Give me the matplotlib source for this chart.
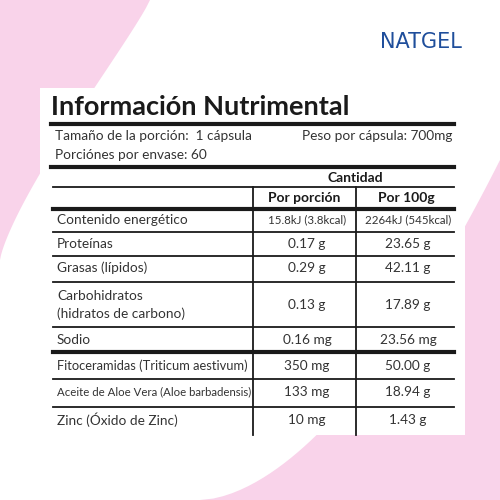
import matplotlib
matplotlib.use("Agg")
import matplotlib.pyplot as plt
from matplotlib.patches import Polygon, Rectangle
import numpy as np

title = "Información Nutrimental"
serving = "Tamaño de la porción:  1 cápsula"
weight = "Peso por cápsula: 700mg"
servings = "Porciónes por envase: 60"
head = "Cantidad"
cols = ["Por porción", "Por 100g"]
nutrients = ["Contenido energético", "Proteínas", "Grasas (lípidos)",
             "Carbohidratos\n(hidratos de carbono)", "Sodio",
             "Fitoceramidas (Triticum aestivum)", "Aceite de Aloe Vera (Aloe barbadensis)",
             "Zinc (Óxido de Zinc)"]
per_portion = ["15.8kJ (3.8kcal)", "0.17 g", "0.29 g", "0.13 g", "0.16 mg", "350 mg", "133 mg", "10 mg"]
per_100g = ["2264kJ (545kcal)", "23.65 g", "42.11 g", "17.89 g", "23.56 mg", "50.00 g", "18.94 g", "1.43 g"]

row_text_y = [220, 244, 268, 305, 340, 366, 392, 420]
row_line_y = [232, 256, 282, 327, 352, 379, 407]
thick_after = {4}

pink = "#f9d3ea"
plt.rcParams['font.family'] = ['Lato', 'DejaVu Sans']
fig = plt.figure(figsize=(5, 5), dpi=100)
ax = fig.add_axes([0, 0, 1, 1])
ax.set_xlim(0, 500); ax.set_ylim(500, 0); ax.axis('off')

t = np.linspace(0, 1, 50)
x1 = 150 * (1 - t) ** 1.3; y1 = 260 * t ** 0.9
ax.add_patch(Polygon(np.column_stack([np.r_[0, x1], np.r_[0, y1]]), color=pink, lw=0))
x2 = 200 + 300 * t ** 0.8; y2 = 500 - 340 * t ** 1.4
ax.add_patch(Polygon(np.column_stack([np.r_[x2, 500], np.r_[y2, 500]]), color=pink, lw=0))
ax.add_patch(Rectangle((40, 88), 425, 347, color='white', lw=0))

ax.text(462, 42, "NATGEL", ha='right', va='center', fontsize=15, color='#1f4e9b', family='DejaVu Sans')

k = '#1a1a1a'
ax.text(51, 107, title, fontsize=19.5, fontweight='bold', va='center', color=k)
ax.plot([51, 454], [124, 124], color=k, lw=3)
ax.text(55, 136, serving, fontsize=9.8, va='center', color='#333')
ax.text(452, 136, weight, fontsize=9.8, va='center', ha='right', color='#333')
ax.text(55, 155, servings, fontsize=9.8, va='center', color='#333')
ax.plot([51, 454], [167, 167], color=k, lw=3)
ax.text(355, 178, head, fontsize=10, fontweight='bold', va='center', ha='center', color=k)
ax.plot([53, 454], [187, 187], color=k, lw=1.3)
ax.text(304, 198, cols[0], fontsize=10, fontweight='bold', va='center', ha='center', color=k)
ax.text(406, 198, cols[1], fontsize=10, fontweight='bold', va='center', ha='center', color=k)
ax.plot([53, 454], [209, 209], color=k, lw=3)
for xv in (253, 356):
    ax.plot([xv, xv], [187, 435], color=k, lw=1.3)
for i, (n, a, b, y) in enumerate(zip(nutrients, per_portion, per_100g, row_text_y)):
    fs = 9.8
    if i == 5:
        fs = 9.3
    if i == 6:
        fs = 8.2
    ax.text(57, y, n, fontsize=fs, va='center', color='#333', linespacing=1.5)
    fa = 8.3 if i == 0 else 9.8
    ax.text(307, y, a, fontsize=fa, va='center', ha='center', color='#333')
    ax.text(408, y, b, fontsize=fa, va='center', ha='center', color='#333')
for i, y in enumerate(row_line_y):
    ax.plot([53, 454], [y, y], color=k, lw=3 if i in thick_after else 1.3)

fig.savefig("out.png", dpi=100)
